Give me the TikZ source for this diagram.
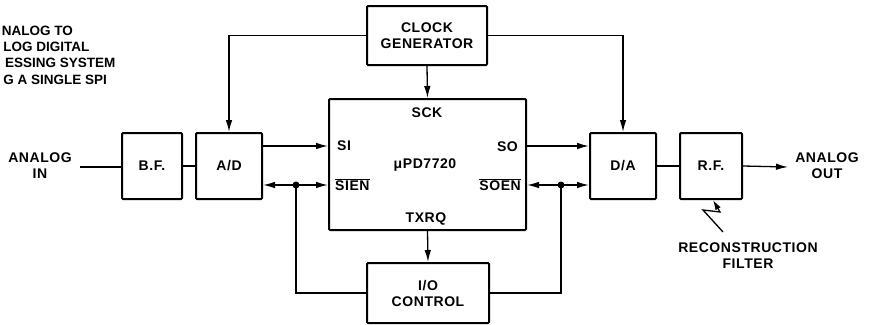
\documentclass[tikz,border=0pt]{standalone}
\usepackage{fontspec}
\setmainfont{Liberation Sans}[LetterSpace=4]
\newfontfamily\capfont{Liberation Sans}
\usetikzlibrary{arrows.meta}
\begin{document}
\begin{tikzpicture}[x=1pt,y=-1pt,
  lbl/.style={font=\bfseries\fontsize{14}{16}\selectfont,inner sep=0pt,align=center},
  captxt/.style={font=\capfont\bfseries\fontsize{13.5}{16}\selectfont,inner sep=0pt,anchor=east},
  box/.style={lbl,draw,line width=2pt,rounded corners=1pt},
  wire/.style={line width=1.3pt},
  arr/.style={wire,-{Latex[length=12pt,width=6.5pt]}},
  dot/.style={circle,fill,inner sep=0pt,minimum size=7pt}]
\useasboundingbox[fill=white] (0,0) rectangle (869,324);

% caption (cropped in the original)
\node[captxt] (c1) at (73,31) {NALOG TO};
\node[captxt] (c2) at (89.5,47) {LOG DIGITAL};
\node[captxt] (c3) at (115.5,63) {ESSING SYSTEM};
\node[captxt] (c4) at (107,80) {G A SINGLE SPI};

% boxes
\node[box,minimum width=60pt,minimum height=66pt] (bf) at (152,166) {B.F.};
\node[box,minimum width=66pt,minimum height=66pt] (ad) at (229,166) {A/D};
\node[box,minimum width=120pt,minimum height=59pt] (clk) at (427,35.5) {CLOCK\\GENERATOR};
\node[box,minimum width=197pt,minimum height=131pt] (mpu) at (427.5,164.5) {};
\node[box,minimum width=122pt,minimum height=60pt] (io) at (428,293) {I/O\\CONTROL};
\node[box,minimum width=66pt,minimum height=66pt] (da) at (623,166) {D/A};
\node[box,minimum width=62pt,minimum height=66pt] (rf) at (711,166) {R.F.};

% labels in the processor
\node[lbl] (sck) at (427,113) {SCK};
\node[lbl,anchor=west] (si) at (337,146) {SI};
\node[lbl,anchor=east] (so) at (518,147) {SO};
\node[lbl] (chip) at (425,165) {μPD7720};
\node[lbl,anchor=west] (sien) at (335,185) {$\overline{\hbox{SIEN}}$};
\node[lbl,anchor=east] (soen) at (521,185) {$\overline{\hbox{SOEN}}$};
\node[lbl] (txrq) at (426,219) {TXRQ};

% outside labels
\node[lbl] (ain) at (40,166) {ANALOG\\IN};
\node[lbl] (aout) at (827,166) {ANALOG\\OUT};
\node[lbl] (recon) at (748,255.5) {RECONSTRUCTION\\FILTER};

% signal chain
\coordinate (inend) at (80,167);
\coordinate (outend) at (788,167);
\draw[wire] (inend) -- (inend -| bf.west);
\draw[wire] (bf.east) -- (ad.west);
\draw[wire] (da.east) -- (rf.west);
\draw[arr] (rf.east) -- (outend);

% clock
\draw[arr] (clk.west) -| (ad.north);
\draw[arr] (clk.east) -| (da.north);
\draw[arr] (clk.south) -- (mpu.north);
\draw[arr] (mpu.south) -- (io.north);

% serial data
\coordinate (siy) at (0,146);
\draw[arr] (siy -| ad.east) -- (siy -| mpu.west);
\draw[arr] (siy -| mpu.east) -- (siy -| da.west);

% enables
\coordinate (dotL) at (296,185);
\coordinate (dotR) at (561,185);
\draw[arr] (dotL) -- (dotL -| ad.east);
\draw[arr] (dotL) -- (dotL -| mpu.west);
\draw[arr] (dotR) -- (dotR -| mpu.east);
\draw[arr] (dotR) -- (dotR -| da.west);
\draw[wire] (dotL) |- (io.west);
\draw[wire] (dotR) |- (io.east);
\node[dot] (dl) at (dotL) {};
\node[dot] (dr) at (dotR) {};

% lightning mark to the filter
\coordinate (bolt) at (723,232);
\draw[wire,-{Latex[length=10pt,width=6pt]}] (bolt) -- (703,210) -- (720,212) -- ([xshift=2pt]rf.south);
\end{tikzpicture}
\end{document}
